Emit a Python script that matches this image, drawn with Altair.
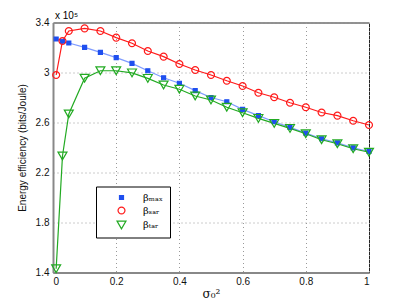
import altair as alt
import pandas as pd

x_vals = [0.01, 0.03, 0.05, 0.1, 0.15, 0.2, 0.25, 0.3, 0.35, 0.4, 0.45, 0.5,
          0.55, 0.6, 0.65, 0.7, 0.75, 0.8, 0.85, 0.9, 0.95, 1.0]
beta_max = [3.268, 3.25, 3.236, 3.201, 3.161, 3.119, 3.073, 3.014, 2.958, 2.914, 2.855, 2.80,
            2.766, 2.705, 2.655, 2.606, 2.561, 2.515, 2.47, 2.437, 2.397, 2.368]
beta_sar = [2.98, 3.252, 3.332, 3.353, 3.332, 3.279, 3.234, 3.172, 3.127, 3.068, 3.02, 2.98,
            2.934, 2.892, 2.838, 2.802, 2.758, 2.722, 2.68, 2.655, 2.614, 2.58]
beta_tar = [1.43, 2.332, 2.668, 2.954, 3.014, 3.014, 2.997, 2.953, 2.9, 2.866, 2.812, 2.78,
            2.722, 2.678, 2.633, 2.593, 2.553, 2.51, 2.462, 2.43, 2.39, 2.362]

names = ["βₘₐₓ", "βₛₐᵣ", "βₜₐᵣ"]
line_colors = ["#7f9bff", "#ff1a1a", "#22aa22"]
marker_colors = ["#1f4fef", "#ff1a1a", "#22aa22"]
fills = ["#1f4fef", "transparent", "transparent"]
shapes = ["square", "circle", "triangle-down"]

rows = []
for name, ys in zip(names, [beta_max, beta_sar, beta_tar]):
    for xv, yv in zip(x_vals, ys):
        rows.append({"x": xv, "y": yv, "series": name})
df = pd.DataFrame(rows)

xs = alt.X("x:Q", scale=alt.Scale(domain=[0, 1], nice=False),
           axis=alt.Axis(values=[0, 0.2, 0.4, 0.6, 0.8, 1], format="~g", title="σ₀²",
                         titleFont="DejaVu Serif", titleFontSize=12, titleFontWeight="normal",
                         titlePadding=2))
ys = alt.Y("y:Q", scale=alt.Scale(domain=[1.4, 3.4], nice=False),
           axis=alt.Axis(values=[1.4, 1.8, 2.2, 2.6, 3.0, 3.4], format="~g",
                         title="Energy efficiency (bits/Joule)", titleFontWeight="normal",
                         titleFontSize=10, titlePadding=8))

lines = alt.Chart(df).mark_line(strokeWidth=1.2).encode(
    x=xs, y=ys,
    color=alt.Color("series:N", sort=names, scale=alt.Scale(domain=names, range=line_colors), legend=None),
    detail="series:N",
)

legend = alt.Legend(title=None, orient="none", legendX=43, legendY=164, strokeColor="black",
                    fillColor="white", padding=6, labelFont="DejaVu Serif", labelFontSize=10,
                    rowPadding=2, symbolStrokeWidth=1.2, symbolOffset=14, labelOffset=16)

points = alt.Chart(df).mark_point(strokeWidth=1.2, opacity=1).encode(
    x="x:Q", y="y:Q",
    shape=alt.Shape("series:N", sort=names, scale=alt.Scale(domain=names, range=shapes), legend=legend),
    stroke=alt.Stroke("series:N", sort=names, scale=alt.Scale(domain=names, range=marker_colors), legend=legend),
    fill=alt.Fill("series:N", sort=names, scale=alt.Scale(domain=names, range=fills), legend=legend),
    size=alt.Size("series:N", sort=names, scale=alt.Scale(domain=names, range=[16, 80, 64]), legend=legend),
)

exp_text = alt.Chart(pd.DataFrame({"t": ["x 10⁵"]})).mark_text(
    align="left", baseline="bottom", fontSize=10, font="Liberation Sans", dy=-2
).encode(text="t:N", x=alt.value(2), y=alt.value(0))

chart = alt.layer(lines, points, exp_text).resolve_scale(
    color="independent"
).properties(
    width=316, height=250,
    autosize=alt.AutoSizeParams(type="none"),
    padding={"left": 45, "top": 14.5, "right": 31, "bottom": 32},
).configure_view(
    stroke="#222", strokeWidth=1
).configure_axis(
    grid=True, gridDash=[1, 3], gridColor="#999", gridOpacity=1,
    domainColor="#888", domainWidth=2, ticks=False,
    labelFont="Liberation Sans", labelFontSize=10, labelColor="#111",
    titleFont="Liberation Sans", titleColor="#111", labelPadding=4,
)

chart.save("out.html", embed_options={"renderer": "svg", "actions": False})
